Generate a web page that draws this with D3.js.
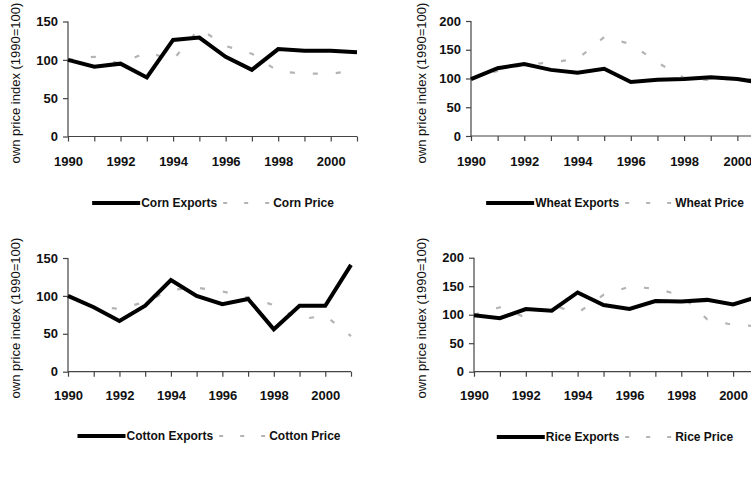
<!DOCTYPE html>
<html>
<head>
<meta charset="utf-8">
<script src="https://cdn.jsdelivr.net/npm/d3@7"></script>
<style>
  body { margin: 0; background: #fff; }
  svg { display: block; font-family: "Liberation Sans", Arial, sans-serif; }
</style>
</head>
<body>
<div id="chart"></div>
<script>
// data
const years = [1990, 1991, 1992, 1993, 1994, 1995, 1996, 1997, 1998, 1999, 2000, 2001];
const xTickLabels = [1990, 1992, 1994, 1996, 1998, 2000];

const cornExports = [100, 91, 95, 77, 126, 129, 104, 87, 114, 112, 112, 110];
const cornPrice = [100, 104, 95, 110, 100, 141, 118, 108, 85, 82, 82, 86];

const wheatExports = [99, 118, 125, 115, 110, 117, 94, 98, 99, 102, 99, 92];
const wheatPrice = [100, 113, 124, 128, 134, 172, 160, 128, 101, 97, 100, 97];

const cottonExports = [100, 85, 67, 87, 121, 100, 89, 96, 56, 87, 87, 141];
const cottonPrice = [100, 86, 83, 92, 108, 111, 106, 98, 88, 69, 74, 47];

const riceExports = [99, 94, 110, 107, 139, 117, 110, 124, 123, 126, 118, 132];
const ricePrice = [100, 113, 95, 117, 103, 135, 149, 146, 134, 92, 82, 80];

const yTicks150 = [0, 50, 100, 150];
const yTicks200 = [0, 50, 100, 150, 200];

function setupPanels() {
    const width = 751
    const height = 484

    let svg = d3.select("#chart")
        .append("svg")
        .attr("width", width)
        .attr("height", height);

    // one entry per small chart: where it sits and what goes in it
    const panels = [
        { name: "Corn", exports: cornExports, price: cornPrice, ticks: yTicks150,
          x0: 68, x1: 357, yTop: 21.5, yBot: 136.5, labelY: 166, legendY: 203, legendX: 213, titleX: 15, titleY: 83 },
        { name: "Wheat", exports: wheatExports, price: wheatPrice, ticks: yTicks200,
          x0: 471, x1: 764, yTop: 21, yBot: 136, labelY: 166, legendY: 203, legendX: 615, titleX: 421, titleY: 83 },
        { name: "Cotton", exports: cottonExports, price: cottonPrice, ticks: yTicks150,
          x0: 68, x1: 351, yTop: 258, yBot: 371.7, labelY: 400, legendY: 436, legendX: 209, titleX: 15, titleY: 318 },
        { name: "Rice", exports: riceExports, price: ricePrice, ticks: yTicks200,
          x0: 474, x1: 759, yTop: 257.7, yBot: 371.7, labelY: 400, legendY: 437, legendX: 615, titleX: 421, titleY: 318 }
    ];

    panels.forEach(function (p) {
        drawPanel(svg, p);
    });
}

function drawPanel(svg, p) {
    const g = svg.append("g");
    const yMax = p.ticks[p.ticks.length - 1];

    let x = d3.scaleLinear()
        .domain([1990, 2001])
        .range([p.x0, p.x1]);

    let y = d3.scaleLinear()
        .domain([0, yMax])
        .range([p.yBot, p.yTop]);

    // y axis
    let yAxis = g.append("g")
        .attr("transform", "translate(" + p.x0 + ",0)")
        .call(d3.axisLeft(y).tickValues(p.ticks).tickSize(5).tickPadding(5));
    yAxis.selectAll("text")
        .style("font-size", "13px")
        .style("font-weight", "bold")
        .attr("fill", "#111");

    // x axis, a tick every year, labels every second year
    let xAxis = g.append("g")
        .attr("transform", "translate(0," + p.yBot + ")")
        .call(d3.axisBottom(x).tickValues(years).tickSize(5)
            .tickFormat(function (d) { return xTickLabels.indexOf(d) >= 0 ? d : ""; }));
    xAxis.selectAll("text")
        .attr("y", p.labelY - p.yBot)
        .attr("dy", 0)
        .style("font-size", "13px")
        .style("font-weight", "bold")
        .attr("fill", "#111");

    g.selectAll(".domain, .tick line")
        .attr("stroke", "#444")
        .attr("stroke-width", 1.2);
    // keep the outer ends of the axes plain
    yAxis.select(".domain").attr("d", "M0," + p.yTop + "V" + p.yBot);
    xAxis.select(".domain").attr("d", "M" + p.x0 + ",0H" + p.x1);

    // axis title
    g.append("text")
        .attr("transform", "translate(" + p.titleX + "," + p.titleY + ") rotate(-90)")
        .attr("text-anchor", "middle")
        .attr("dy", "0.35em")
        .style("font-size", "13px")
        .attr("fill", "#111")
        .text("own price index (1990=100)");

    let line = d3.line()
        .x(function (d, i) { return x(years[i]); })
        .y(function (d) { return y(d); });

    // price (light dashed) first, exports on top
    g.append("path")
        .datum(p.price)
        .attr("d", line)
        .attr("fill", "none")
        .attr("stroke", "#b4b4b4")
        .attr("stroke-width", 2.2)
        .attr("stroke-dasharray", "5,18");

    g.append("path")
        .datum(p.exports)
        .attr("d", line)
        .attr("fill", "none")
        .attr("stroke", "#000")
        .attr("stroke-width", 4)
        .attr("stroke-linejoin", "miter");

    drawLegend(g, p);
}

function drawLegend(g, p) {
    const swatch = 48;
    let leg = g.append("g");

    let t1 = leg.append("text")
        .style("font-size", "12px")
        .style("font-weight", "bold")
        .attr("fill", "#111")
        .attr("dy", "0.35em")
        .text(p.name + " Exports");
    let t2 = leg.append("text")
        .style("font-size", "12px")
        .style("font-weight", "bold")
        .attr("fill", "#111")
        .attr("dy", "0.35em")
        .text(p.name + " Price");

    const w1 = t1.node().getComputedTextLength();
    const w2 = t2.node().getComputedTextLength();
    const gap = 6;
    const total = swatch + 1 + w1 + gap + swatch + 2 + w2;
    let left = p.legendX - total / 2;

    leg.append("line")
        .attr("x1", left).attr("x2", left + swatch)
        .attr("y1", p.legendY).attr("y2", p.legendY)
        .attr("stroke", "#000").attr("stroke-width", 4);
    t1.attr("x", left + swatch + 1).attr("y", p.legendY);

    let l2 = left + swatch + 1 + w1 + gap;
    leg.append("line")
        .attr("x1", l2).attr("x2", l2 + swatch)
        .attr("y1", p.legendY).attr("y2", p.legendY)
        .attr("stroke", "#b4b4b4").attr("stroke-width", 2.2)
        .attr("stroke-dasharray", "4,17");
    t2.attr("x", l2 + swatch + 2).attr("y", p.legendY);
}

setupPanels();
</script>
</body>
</html>
